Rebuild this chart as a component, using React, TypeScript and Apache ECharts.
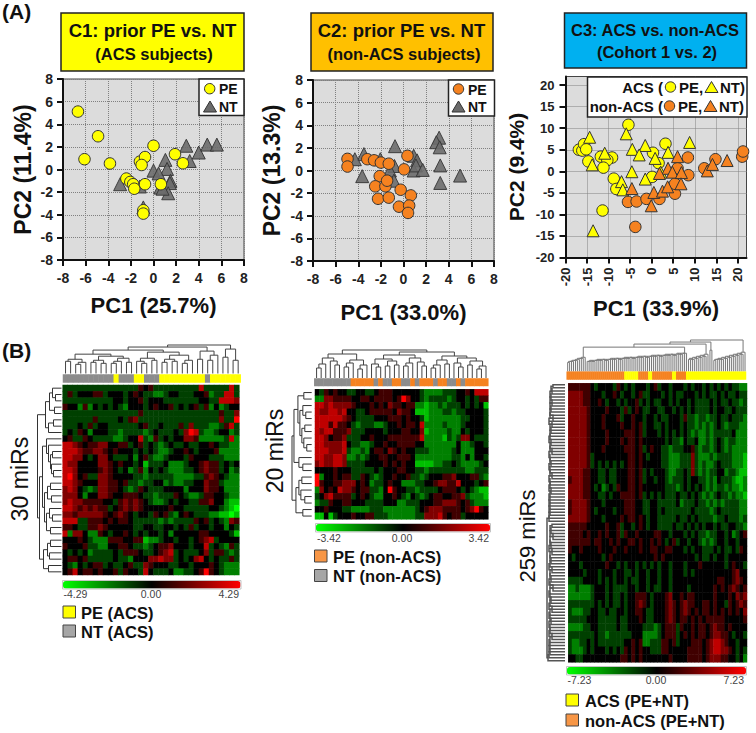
import React, { useEffect, useRef } from "react";
import * as echarts from "echarts";

const FONT = "'Liberation Sans', Arial, sans-serif";

// ---------- PCA scores ----------
const c1PE = [[-6.68,5.12],[-4.9,2.94],[-6.1,0.91],[-3.85,0.53],[0,2.1],[1.9,1.35],[2.6,0.55],[-1.2,0.7],[-0.75,1.1],[-1.05,0.4],[-2.4,-0.8],[-2.05,-1.1],[-1.8,-1.3],[-1.7,-1.7],[-0.75,-1.3],[0.65,-1.3],[-0.9,-3.6],[-0.9,-3.9]];
const c1NT = [[2.9,2.1],[4.0,1.5],[4.75,2.2],[5.6,2.2],[3.2,0.75],[1.05,0.85],[1.2,0.05],[0,-0.1],[0.45,-0.35],[1.5,-1.0],[1.45,-1.2],[1.3,-2.1],[0.6,-1.6],[0.8,-1.7],[-2.95,-1.3],[-1.2,-1.5],[-0.9,-3.35]];
const c2PE = [[-4.95,1.03],[-4.95,0.35],[-3.2,1.0],[-2.6,0.9],[-2.0,0.7],[-1.3,0.6],[0.35,1.3],[0.05,0.1],[-2.1,-0.5],[-2.5,-1.4],[-1.6,-1.4],[-1.45,-0.9],[-2.25,-2.5],[-1.3,-2.4],[-0.25,-1.7],[0.65,-2.2],[-0.4,-3.2],[0.5,-3.1],[0.4,-3.75]];
const c2NT = [[-0.75,2.15],[-3.5,1.45],[-4.3,1.0],[-3.65,-0.5],[-2.05,1.0],[-0.8,0.4],[-1.2,0],[-0.85,-0.9],[0.9,1.3],[1.2,0.9],[0.9,0],[1.1,0.45],[1.7,0.05],[3.15,2.9],[2.9,2.5],[3.2,2.05],[3.25,0.45],[3.25,-1.1],[5.0,-0.45]];
const c3AcsPE = [[-16.9,5.0],[-16.1,4.8],[-15.7,6.3],[-15.2,5.1],[-14.7,2.3],[-11.8,3.4],[-9.2,3.2],[-10.3,2.6],[-11.2,0.85],[-8.8,-1.7],[-8.2,-4.1],[-11.4,-9.1],[-5.4,10.8],[3.2,6.4],[0.3,4.3],[1.6,1.9],[0.1,-1.3]];
const c3AcsNT = [[-14.4,7.9],[-10.9,4.2],[-13.8,1.5],[-13.6,-13.8],[-5.9,8.7],[-4.5,5.1],[-1.5,6.0],[-2.9,3.8],[-4.6,-0.1],[0.8,3.0],[3.8,4.4],[2.1,-0.2],[-1.5,-1.8],[-7,-2.4],[-6.7,-4.3],[8.8,6.7]];
const c3NonPE = [[-5.5,-7.1],[-3.5,-7.0],[-1.2,-6.4],[-3.8,-12.9],[1.8,-6.4],[5.4,-5.2],[5.4,-2.9],[6.0,0.7],[8.4,3.2],[8.5,-0.9],[12.2,0.7],[14.8,2.8],[21,3.4],[21.2,4.6]];
const c3NonNT = [[-4.6,-4],[-0.1,-8],[0.5,-4.9],[2.5,-4.6],[3.7,-3.6],[3.8,0.7],[4.8,-0.2],[6,3.4],[6.9,-0.3],[6.8,-2.9],[12.9,0.1],[14.1,1.6],[17.5,2.5],[1.8,-0.5]];

const ticksC3 = [-20,-15,-10,-5,0,5,10,15,20];

// ---------- Heat maps: one digit per cell, 0 = full green, 4 = black, 8 = full red ----------
const heat1Rows = [
"33333 33333 33333 54533 33333 33733 33373","35344 45534 44345 43322 34433 34452 33773","33333 33333 44344 53444 33333 33443 37776","54425 24343 43244 43454 45343 45352 42344",
"33333 33333 33333 53333 33333 33333 35336","33333 35333 34356 33333 33333 33333 36338","33343 53443 33333 45334 33353 63332 23573","34354 24443 32333 32343 33436 87322 34423",
"45335 43333 22344 73253 43446 65222 22372","77654 55664 45534 53432 34334 33445 43322","77765 56654 54443 43432 23445 43444 52222","77664 34664 33342 45322 34443 54443 33222",
"76644 44665 45443 41333 42223 44565 53434","77644 44565 43423 52434 32223 34565 53423","78645 33665 44443 32333 33222 23356 54322","77654 44665 54533 23344 23223 34465 53222",
"67643 23665 54323 54333 44442 44465 54222","66642 44665 44555 43323 33543 22355 44322","67665 55544 35656 54322 34344 33556 44211","77656 56553 45656 54444 45443 33334 43210",
"66566 66654 56543 44354 53245 43332 21101","77733 55545 45543 33332 32333 35453 43265","55433 55654 44443 34433 44343 53443 44243","72664 22543 44543 43443 42444 44554 44431",
"44454 32225 55445 51223 44344 34567 34444","54445 33224 45543 32345 56444 34473 43253","43434 23333 43555 43345 67343 33463 55323","45545 33333 43324 44667 66343 46743 43353",
"43243 45534 33453 36544 43344 34445 43222","45745 54544 53544 37433 34223 34585 43222",
];
const heat2Rows = [
"43545 44334 43345 55444 44432 22233 34454 777","22665 55544 55455 55458 64432 33332 34434 355","77676 66654 44545 46554 55221 22323 33434 341","76677 67443 34555 55465 54111 22233 23344 443",
"77777 76543 33344 45554 54431 22222 22334 443","77757 55432 33322 34454 55472 22232 22344 443","76775 55633 34444 34445 54461 22223 22434 443","77645 56333 44544 45555 55572 22213 23664 333",
"77666 67433 22344 54455 55442 22222 24223 443","77766 67322 32455 46545 44333 22222 34222 444","77667 76223 23445 54455 54222 22222 33242 443","67667 76333 34444 54545 44111 12233 43222 234",
"44445 44433 33343 44455 44332 33333 33322 333","82445 45533 54323 44544 53323 44455 64445 532","85445 56664 54233 45442 22334 45665 57444 345","26454 76654 55332 48544 33233 33455 54343 211",
"34675 55534 54322 44543 24323 45544 55632 221","23354 45544 43333 44422 33344 45566 65453 222","44544 43322 22333 22222 22345 66655 55456 854","11413 44454 45533 32222 22336 66754 55344 444",
];
const heat3Rows = [
"555555 434444 354343 444345 344344 434344 343434 343322","666655 444344 543443 453344 434343 344434 343343 433433","666655 445434 434344 534343 344343 443433 334343 343323","666665 444454 443534 543344 334434 343433 334344 334333",
"666665 444544 453445 443443 433444 353323 323343 343332","666665 444544 445445 453443 343444 343323 232343 233322","666665 444454 444555 453444 343434 343232 232333 334222","666665 444454 445455 454444 443433 243342 232343 233222",
"666665 444544 444555 453454 433233 344532 332343 232222","666665 344444 444455 454344 433222 333632 223233 332221","666665 343434 343455 454444 433222 333632 322343 332221","666655 443343 344455 453434 443223 343632 323344 233211",
"566655 443343 344455 453443 443233 343443 323243 332112","666655 434234 354455 454444 443332 343434 323233 232212","666655 443343 445555 453434 343334 334343 232343 323221","566665 444344 444555 443344 333334 233343 323232 333322",
"566665 434444 344555 443344 343333 333433 332343 333322","666665 444344 445455 454344 333334 334343 333233 433323","555554 444454 453443 454344 333343 343434 344343 344332","555545 445454 453544 544445 544344 434343 323344 342345",
"555555 455445 454455 454454 543453 443443 232344 344344","544544 445444 544544 454455 445544 434344 333434 334354","434444 444345 444444 444445 454444 444434 334344 344444","444344 444454 434344 343434 344344 434445 444444 345443",
"444434 443444 344334 344344 344344 434344 444444 445644","333344 443434 344343 344344 344344 444444 444455 445654","223222 344434 333344 344343 344344 443444 444545 456545","222222 344434 334344 555434 445644 545544 444544 454656",
"333333 343434 334344 565434 445654 565544 554544 354565","322233 443343 344344 554334 445654 565454 554545 454546","333334 443333 343344 454334 445654 554545 455555 444445","222233 443333 343344 443332 345553 544545 545655 454444",
"333333 343323 333334 442222 345553 454545 545665 543443","322334 343333 333445 452233 355453 444555 456776 544344","322234 344434 343545 454433 355444 445555 456776 654343","443344 444444 445545 454444 444544 445555 456665 544342",
];

// Column annotation runs: [class, number of columns]
const annot1Runs = [[0,10],[1,1],[0,3],[1,2],[0,3],[1,9],[0,1],[1,6]];
const annot2Runs = [[0,8],[1,5],[0,1],[1,1],[0,2],[1,2],[0,2],[1,1],[0,1],[1,3],[0,1],[1,2],[0,2],[1,1],[0,1],[1,5]];
const annot3Runs = [[0,29],[1,7],[0,5],[1,2],[0,10],[1,2],[0,5],[1,30]];

// Dendrograms: [merge height, left child, right child]; 0 is a leaf
const topTree1: any = [28,[26,[23,[19,[14,[12,0,0],[11,[9,0,0],0]],[17,[13,[11,0,0],[10,0,0]],[15,[12,[10,0,0],0],[11,0,0]]]],[21,[15,[12,0,[10,0,0]],[13,0,0]],[18,[14,[11,0,0],[12,0,0]],[13,[10,0,0],0]]]],[22,[14,0,0],[18,[13,0,0],0]]],[24,[16,0,0],[13,0,0]]];
const leftTree1: any = [24,[16,[12,[9,0,[6,0,0]],[7,0,0]],[13,[8,0,0],0]],[22,[19,[15,0,[13,0,[11,[9,0,0],[10,0,[8,0,0]]]]],[17,[14,[11,0,0],[10,0,0]],[15,[12,0,[9,0,0]],[11,0,0]]]],[18,[14,[11,0,0],[12,0,0]],[13,0,0]]]];
const topTree2: any = [28,[24,[20,[14,[10,0,0],0],[17,0,[13,0,0]]],[18,[15,[11,0,0],0],[13,[9,0,0],0]]],[26,[23,[19,[14,0,[11,0,0]],[17,[12,0,0],[13,0,0]]],[20,[15,[12,0,0],0],[16,0,[12,0,0]]]],[22,[18,[13,[10,0,0],0],[14,0,0]],[20,[15,0,[11,0,0]],[17,[13,0,0],[12,[9,0,0],0]]]]]];
const leftTree2: any = [20,[18,[14,[8,0,0],[12,[9,0,[6,0,0]],[10,[7,0,0],[8,0,[5,0,0]]]]],[13,0,[9,0,0]]],[16,[13,[10,0,0],[11,0,[7,0,0]]],[9,0,0]]];
// Long chained clusters of the big heat map: successive merge heights
const top3A = [9,10,10,11,11,12,13,13,14];
const top3B = [10,10,11,10,11,11,12,11,12,12,11,12,12,13,12,13,13,12,13,13,14,13,14,14,13,14,14,15,14,15,15,14,15,15,16,15,16,16,15,16,16,17,16,17,17,16,17,18,17,18,18];
const top3C = [12,13,12,14,13,15,14,16,15,17];
const top3D = [11,12,12,13,12,14,13,15,14,16,15,17,16,18,17,19];
const left3A = [12,14,13,15,14,15,13,15,14,15,15,12,16,13,15,14,15,15,16,14,15,15,13,16,15,15,14,16,15,15,13,16,15,15,16,14,15,16,15,16,15,16,15,16,16];
const left3B = [13,15,14,15,12,15,15,14,16,13,15,15,14,15,16,13,15,15,14,16,15,12,15,16,15,14,15,16,13,15,16,15,14,16,15,15,16,13,15,16,15,16,15,16,17];

const chain = (h: number[]): any => h.reduce((acc: any, v: number) => [v, acc, 0], 0 as any);
const topTree3: any = [31,[29,[27,[24,chain(top3A),chain(top3B)],chain(top3C)],[21,0,0]],chain(top3D)];
const leftTree3: any = [18,chain(left3A),chain(left3B)];

const leafCount = (t: any): number => (t === 0 ? 1 : leafCount(t[1]) + leafCount(t[2]));
function treeNodes(t: any) {
  const out: number[][] = [];
  let next = 0;
  const walk = (n: any): [number, number] => {
    if (n === 0) { next += 1; return [next - 0.5, 0]; }
    const a = walk(n[1]);
    const b = walk(n[2]);
    out.push([a[0], a[1], b[0], b[1], n[0]]);
    return [(a[0] + b[0]) / 2, n[0]];
  };
  walk(t);
  return out;
}
const toCells = (rows: string[], max: number) =>
  rows.flatMap((r, y) => r.replace(/\s/g, "").split("").map((c, x) => [x, y, ((Number(c) - 4) / 4) * max]));
const expandRuns = (runs: number[][]) => runs.flatMap(([c, n]) => Array(n).fill(c)).map((c, x) => [x, 0, c]);

const YELLOW = "#ffff00";
const ORANGE = "#f58220";
const GRAYM = "#6b6b6b";
const BARGRAY = "#8c8c8c";
const HEATCOLORS = ["#00ff00", "#000000", "#ff0000"];

function buildOption() {
  const grid: any[] = [], xAxis: any[] = [], yAxis: any[] = [], series: any[] = [], visualMap: any[] = [], graphic: any[] = [];

  const txt = (x: number, y: number, text: string, size: number, o: any = {}) =>
    graphic.push({
      type: "text", x, y, rotation: o.rot || 0, z: 100, silent: true,
      style: { text, fontSize: size, fontWeight: o.weight || "bold", fontFamily: FONT, fill: o.fill || "#111",
        align: o.align || "left", verticalAlign: "middle", textAlign: o.align || "left", textVerticalAlign: "middle" },
    });
  const box = (x: number, y: number, w: number, h: number, fill: string, stroke = "#222", lw = 1.5, z = 90) =>
    graphic.push({ type: "rect", z, silent: true, shape: { x, y, width: w, height: h }, style: { fill, stroke, lineWidth: lw } });
  const dot = (cx: number, cy: number, fill: string) =>
    graphic.push({ type: "circle", z: 100, silent: true, shape: { cx, cy, r: 5.2 }, style: { fill, stroke: "#333", lineWidth: 1 } });
  const tri = (cx: number, cy: number, fill: string) =>
    graphic.push({ type: "polygon", z: 100, silent: true, shape: { points: [[cx, cy - 6], [cx + 6.5, cy + 5], [cx - 6.5, cy + 5]] }, style: { fill, stroke: "#333", lineWidth: 1 } });

  const rect = (l: number, t: number, r: number, b: number, extra: any = {}) => {
    grid.push({ left: l, top: t, width: r - l, height: b - t, containLabel: false, ...extra });
    return grid.length - 1;
  };

  const axisBase = (g: number, min: number, max: number, interval: number, name: string, gap: number, nameSize: number, labelSize: number, margin: number) => ({
    type: "value", gridIndex: g, min, max, interval, name, nameLocation: "middle", nameGap: gap,
    nameTextStyle: { fontFamily: FONT, fontWeight: "bold", fontSize: nameSize, color: "#111" },
    axisLine: { show: true, onZero: false, lineStyle: { color: "#111", width: 2 } },
    axisTick: { show: true, length: 6, lineStyle: { color: "#111", width: 2 } },
    axisLabel: { fontFamily: FONT, fontWeight: "bold", fontSize: labelSize, color: "#222", margin },
    splitLine: { show: true, lineStyle: { type: "dotted", color: "#808080", width: 1 } },
  });
  const pca = (l: number, t: number, r: number, b: number, xName: string, yName: string, gapX: number, gapY: number) => {
    const g = rect(l, t, r, b, { show: true, backgroundColor: "#dcdcdc", borderColor: "#444", borderWidth: 1 });
    xAxis.push(axisBase(g, -8, 8, 2, xName, gapX, 22, 14, 11));
    yAxis.push(axisBase(g, -8, 8, 2, yName, gapY, 23, 14, 10));
    return g;
  };
  const scatter = (name: string, g: number, data: number[][], symbol: string, color: string, size: number, op = 1) =>
    series.push({ type: "scatter", name, xAxisIndex: g, yAxisIndex: g, data, symbol, symbolSize: size, silent: true,
      itemStyle: { color, borderColor: "#333", borderWidth: 1, opacity: op } });

  // ----- A: PCA panels -----
  const g1 = pca(63, 79, 244, 260, "PC1 (25.7%)", "PC2 (11.4%)", 34, 29);
  scatter("NT (ACS)", g1, c1NT, "triangle", GRAYM, 13, 0.9);
  scatter("PE (ACS)", g1, c1PE, "circle", YELLOW, 11.5);
  const g2 = pca(313, 80, 494, 261, "PC1 (33.0%)", "PC2 (13.3%)", 40, 30);
  scatter("NT (non-ACS)", g2, c2NT, "triangle", GRAYM, 13, 0.9);
  scatter("PE (non-ACS)", g2, c2PE, "circle", ORANGE, 11.5);

  const g3 = rect(565.5, 76.5, 746.5, 257.5, { show: true, backgroundColor: "#dcdcdc", borderColor: "#444", borderWidth: 1 });
  const x3: any = axisBase(g3, -20, 22, 5, "PC1 (33.9%)", 40, 22, 13, 10);
  x3.axisLabel = { ...x3.axisLabel, rotate: 90, customValues: ticksC3 };
  x3.axisTick = { ...x3.axisTick, customValues: ticksC3 };
  const y3: any = axisBase(g3, -20, 22, 5, "PC2 (9.4%)", 39, 21, 13, 11);
  y3.axisLabel = { ...y3.axisLabel, customValues: ticksC3 };
  y3.axisTick = { ...y3.axisTick, customValues: ticksC3 };
  xAxis.push(x3); yAxis.push(y3);
  scatter("ACS PE", g3, c3AcsPE, "circle", YELLOW, 11.5);
  scatter("ACS NT", g3, c3AcsNT, "triangle", YELLOW, 12);
  scatter("non-ACS PE", g3, c3NonPE, "circle", ORANGE, 11.5);
  scatter("non-ACS NT", g3, c3NonNT, "triangle", ORANGE, 12);

  // ----- Heat maps -----
  const hidden = (g: number, extra: any) => ({ gridIndex: g, show: false, ...extra });
  const tree = (t: any, orient: "top" | "left", l: number, tp: number, r: number, b: number, H: number, color: string, lw: number, name: string) => {
    const g = rect(l, tp, r, b);
    const n = leafCount(t);
    if (orient === "top") {
      xAxis.push(hidden(g, { type: "value", min: 0, max: n }));
      yAxis.push(hidden(g, { type: "value", min: 0, max: H }));
    } else {
      xAxis.push(hidden(g, { type: "value", min: 0, max: H, inverse: true }));
      yAxis.push(hidden(g, { type: "value", min: 0, max: n, inverse: true }));
    }
    series.push({
      type: "custom", name, xAxisIndex: g, yAxisIndex: g, silent: true, clip: false, data: treeNodes(t),
      renderItem: (_p: any, api: any) => {
        const [a, ha, c, hc, top] = [0, 1, 2, 3, 4].map((i) => api.value(i));
        const raw = orient === "top" ? [[a, ha], [a, top], [c, top], [c, hc]] : [[ha, a], [top, a], [top, c], [hc, c]];
        return { type: "polyline", shape: { points: raw.map((p) => api.coord(p)) }, style: { stroke: color, fill: "none", lineWidth: lw } };
      },
    });
  };
  const heat = (name: string, rows: string[], max: number, l: number, t: number, r: number, b: number, barL: number, barT: number, barLen: number) => {
    const g = rect(l, t, r, b);
    const cols = rows[0].replace(/\s/g, "").length;
    xAxis.push(hidden(g, { type: "category", data: Array.from({ length: cols }, (_, i) => i) }));
    yAxis.push(hidden(g, { type: "category", inverse: true, data: rows.map((_, i) => i) }));
    series.push({ type: "heatmap", name, xAxisIndex: g, yAxisIndex: g, data: toCells(rows, max), silent: true, progressive: 0 });
    visualMap.push({
      type: "continuous", seriesIndex: series.length - 1, min: -max, max, show: true, orient: "horizontal",
      left: barL, top: barT, itemWidth: 7.5, itemHeight: barLen, padding: 0, calculable: false, hoverLink: false,
      inRange: { color: HEATCOLORS },
    });
    box(barL - 0.5, barT - 0.5, barLen + 1, 8.5, "none", "#c4c4c4", 1, 1);
  };
  const annot = (name: string, runs: number[][], colors: string[], l: number, t: number, r: number, b: number) => {
    const g = rect(l, t, r, b);
    const d = expandRuns(runs);
    xAxis.push(hidden(g, { type: "category", data: d.map((v) => v[0]) }));
    yAxis.push(hidden(g, { type: "category", data: [0] }));
    series.push({ type: "heatmap", name, xAxisIndex: g, yAxisIndex: g, data: d, silent: true, progressive: 0 });
    visualMap.push({ type: "continuous", show: false, seriesIndex: series.length - 1, min: 0, max: 1, inRange: { color: colors } });
  };

  // B1
  tree(topTree1, "top", 63, 345, 240.7, 373.5, 28, "#444", 1, "columns 30 miRs");
  annot("classes 30 miRs", annot1Runs, [BARGRAY, YELLOW], 63, 374.5, 240.7, 382.5);
  tree(leftTree1, "left", 37.5, 385, 61.5, 575, 24, "#333", 1, "rows 30 miRs");
  heat("30 miRs", heat1Rows, 4.29, 62.7, 385, 239.3, 575, 63, 581, 177.5);
  // B2
  tree(topTree2, "top", 314.3, 350, 488.3, 378, 28, "#444", 1, "columns 20 miRs");
  annot("classes 20 miRs", annot2Runs, [BARGRAY, ORANGE], 314.3, 378.5, 488.3, 386);
  tree(leftTree2, "left", 292, 389.3, 311.7, 519.3, 20, "#333", 1, "rows 20 miRs");
  heat("20 miRs", heat2Rows, 3.42, 315, 389.3, 488.3, 519.3, 316, 524, 174);
  // B3
  tree(topTree3, "top", 566.7, 339, 746, 371.5, 32, "#777", 1, "columns 259 miRs");
  annot("classes 259 miRs", annot3Runs, [ORANGE, YELLOW], 566.7, 371.7, 746, 379.5);
  tree(leftTree3, "left", 546.7, 383.3, 565, 662.3, 18.3, "#555", 1.5, "rows 259 miRs");
  heat("259 miRs", heat3Rows, 7.23, 568.3, 383.3, 747, 662.3, 567, 667, 179);

  // ----- Text and boxes -----
  txt(2, 11, "(A)", 21); txt(2, 350, "(B)", 21);

  box(61, 13, 183, 58, YELLOW);
  txt(152.5, 30.5, "C1: prior PE vs. NT", 18.5, { align: "center" });
  txt(154, 54, "(ACS subjects)", 16.5, { align: "center" });
  box(311, 13, 182, 58, "#ffc000");
  txt(401.5, 30.5, "C2: prior PE vs. NT", 18.5, { align: "center" });
  txt(404, 54, "(non-ACS subjects)", 16.5, { align: "center" });
  box(564.5, 13, 182, 55, "#00b0f0");
  txt(655, 29.5, "C3: ACS vs. non-ACS", 16.5, { align: "center" });
  txt(657, 51.5, "(Cohort 1 vs. 2)", 16.5, { align: "center" });

  box(199, 79, 45, 36.5, "#fff");
  dot(209.7, 88.7, YELLOW); tri(210, 107, GRAYM); txt(219, 89, "PE", 14); txt(219, 107, "NT", 14);
  box(448.5, 80, 46, 36, "#fff");
  dot(458.5, 89, ORANGE); tri(458.5, 107, GRAYM); txt(468, 89.5, "PE", 14); txt(468, 107, "NT", 14);
  box(587.5, 77, 159.5, 40, "#fff");
  txt(663, 87.5, "ACS (", 15, { align: "right" }); dot(670.5, 87, YELLOW); txt(679, 87.5, "PE,", 15); tri(711.5, 87.5, YELLOW); txt(720, 87.5, "NT)", 15);
  txt(663, 106.5, "non-ACS (", 15, { align: "right" }); dot(669.5, 106, ORANGE); txt(678, 106.5, "PE,", 15); tri(710.5, 106.5, ORANGE); txt(719, 106.5, "NT)", 15);

  txt(20, 479, "30 miRs", 23, { rot: Math.PI / 2, align: "center", weight: "normal" });
  txt(275, 451, "20 miRs", 23, { rot: Math.PI / 2, align: "center", weight: "normal" });
  txt(527, 536, "259 miRs", 22, { rot: Math.PI / 2, align: "center", weight: "normal" });

  const small = { weight: "normal", fill: "#444" };
  txt(63.5, 594, "-4.29", 10.5, small); txt(151, 594, "0.00", 10.5, { ...small, align: "center" }); txt(239, 594, "4.29", 10.5, { ...small, align: "right" });
  txt(317, 537.5, "-3.42", 10.5, small); txt(402, 537.5, "0.00", 10.5, { ...small, align: "center" }); txt(489, 537.5, "3.42", 10.5, { ...small, align: "right" });
  txt(567.5, 680, "-7.23", 10.5, small); txt(656, 680, "0.00", 10.5, { ...small, align: "center" }); txt(744, 680, "7.23", 10.5, { ...small, align: "right" });

  const sw = (x: number, y: number, fill: string, label: string, tx: number) => {
    box(x, y, 12.5, 12, fill, "#444", 1);
    txt(tx, y + 6.5, label, 16.5);
  };
  sw(63, 606, YELLOW, "PE (ACS)", 81); sw(63, 625, "#a6a6a6", "NT (ACS)", 81);
  sw(314.5, 550, "#f79646", "PE (non-ACS)", 333); sw(314.5, 569.5, "#a6a6a6", "NT (non-ACS)", 333);
  sw(566, 694, YELLOW, "ACS (PE+NT)", 585); sw(566, 714, "#f79646", "non-ACS (PE+NT)", 585);

  return { animation: false, backgroundColor: "#fff", grid, xAxis, yAxis, series, visualMap, graphic: { elements: graphic } };
}

export default function App() {
  const ref = useRef<HTMLDivElement>(null);
  useEffect(() => {
    const chart = echarts.init(ref.current!, undefined, { renderer: "svg" });
    chart.setOption(buildOption() as any);
    return () => chart.dispose();
  }, []);
  return <div ref={ref} style={{ position: "absolute", left: 0, top: 0, width: 756, height: 733 }} />;
}
